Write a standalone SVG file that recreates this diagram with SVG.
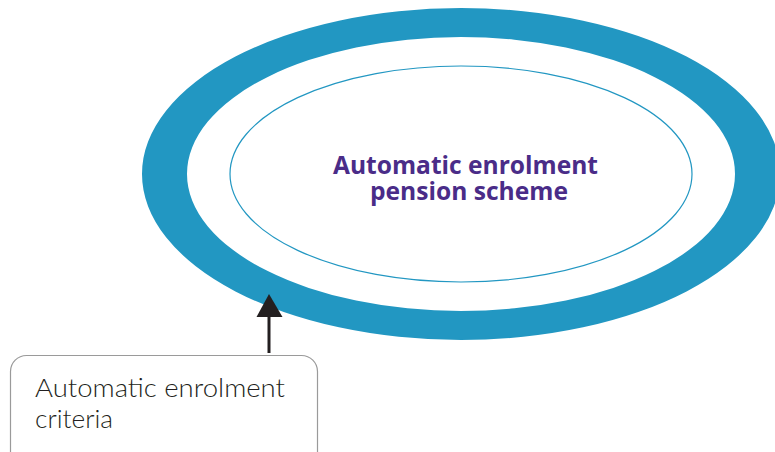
<svg xmlns="http://www.w3.org/2000/svg" width="775" height="452" viewBox="0 0 775 452">
<defs>
<style>
.ring{fill:#2297c2;fill-rule:evenodd}
.inner{fill:none;stroke:#2297c2;stroke-width:1.2}
.title{font-family:"Open Sans",Lato,"Liberation Sans",sans-serif;font-weight:700;font-size:25px;fill:#4a2c88}
.box{fill:#fff;stroke:#9a9a9a;stroke-width:1.2}
.label{font-family:Lato,"Open Sans","Liberation Sans",sans-serif;font-weight:300;font-size:26px;fill:#231f20}
.conn{stroke:#231f20;stroke-width:3;fill:none}
</style>
</defs>
<rect width="775" height="452" fill="#fff"/>
<g id="scheme">
<path class="ring" d="M142,174 a319,166 0 1,0 638,0 a319,166 0 1,0 -638,0 Z M187,174 a274,137 0 1,0 548,0 a274,137 0 1,0 -548,0 Z"/>
<ellipse class="inner" cx="461" cy="174" rx="231" ry="108"/>
<text class="title" x="333" y="174" textLength="265" lengthAdjust="spacingAndGlyphs">Automatic enrolment</text>
<text class="title" x="370" y="200" textLength="198" lengthAdjust="spacingAndGlyphs">pension scheme</text>
</g>
<g id="criteria">
<rect class="box" x="10.5" y="355.5" width="307" height="120" rx="16" ry="16"/>
<text class="label" x="35" y="397" textLength="250" lengthAdjust="spacingAndGlyphs">Automatic enrolment</text>
<text class="label" x="35" y="428" textLength="78" lengthAdjust="spacingAndGlyphs">criteria</text>
</g>
<g id="connectors">
<line class="conn" x1="269" y1="353" x2="269" y2="315"/>
<polygon points="269,294 256.5,317 282.5,317" fill="#231f20"/>
</g>
</svg>
